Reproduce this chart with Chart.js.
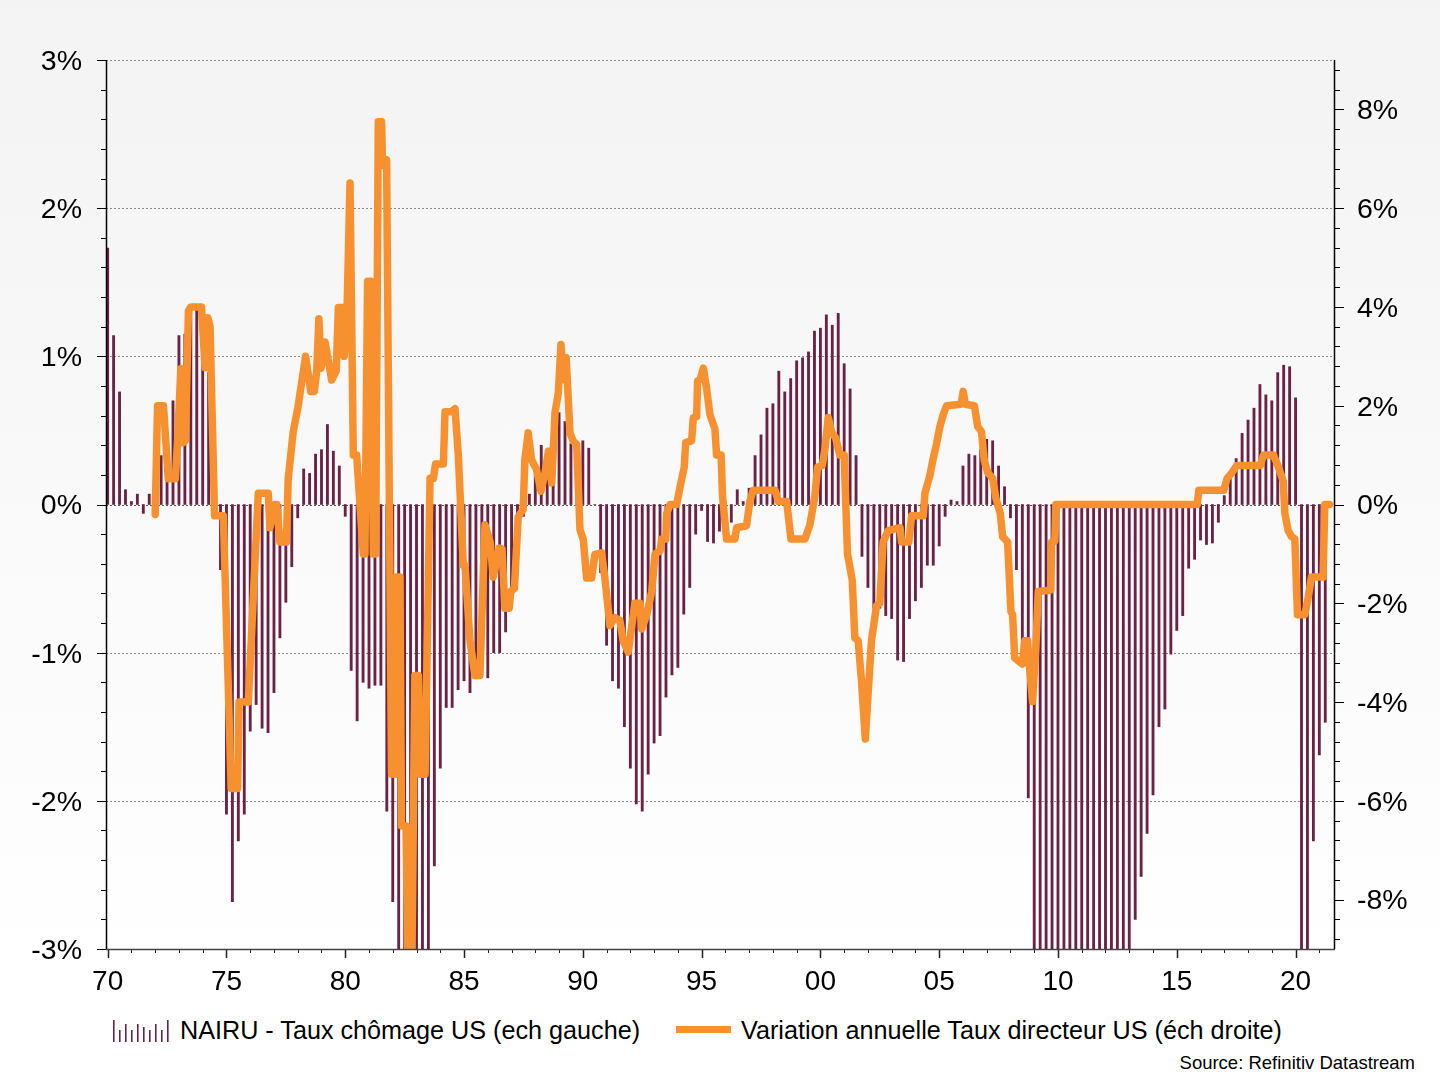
<!DOCTYPE html>
<html>
<head>
<meta charset="utf-8">
<script src="https://cdn.jsdelivr.net/npm/chart.js@4.4.1/dist/chart.umd.min.js"></script>
<style>
html,body{margin:0;padding:0;}
body{width:1440px;height:1080px;overflow:hidden;position:relative;
  background:linear-gradient(to bottom,#f3f3f3 0%,#f9f9f9 45%,#ffffff 90%);
  font-family:"Liberation Sans",Arial,Helvetica,sans-serif;color:#000;}
#wrap{position:absolute;left:0;top:0;width:1440px;height:1000px;}
.leg{position:absolute;font-size:25.2px;line-height:30px;white-space:nowrap;top:1015px;}
#src{position:absolute;right:25px;top:1052px;font-size:18.5px;line-height:22px;white-space:nowrap;}
</style>
</head>
<body>
<div id="wrap"><canvas id="c" width="1440" height="1000"></canvas></div>
<svg style="position:absolute;left:112px;top:1018px" width="58" height="24">
  <rect x="1" y="2" width="1.6" height="22" fill="#6a2245"/>
  <rect x="7" y="12" width="1.6" height="12" fill="#6a2245"/>
  <rect x="13" y="6" width="1.6" height="18" fill="#6a2245"/>
  <rect x="19" y="12" width="1.6" height="12" fill="#6a2245"/>
  <rect x="25" y="6" width="1.6" height="18" fill="#6a2245"/>
  <rect x="31" y="9" width="1.6" height="15" fill="#6a2245"/>
  <rect x="37" y="12" width="1.6" height="12" fill="#6a2245"/>
  <rect x="43" y="6" width="1.6" height="18" fill="#6a2245"/>
  <rect x="49" y="12" width="1.6" height="12" fill="#6a2245"/>
  <rect x="55" y="2" width="1.6" height="22" fill="#6a2245"/>
</svg>
<div class="leg" style="left:180px">NAIRU - Taux chômage US (ech gauche)</div>
<div style="position:absolute;left:676px;top:1026px;width:55px;height:7px;background:#f7912f"></div>
<div class="leg" style="left:741px">Variation annuelle Taux directeur US (éch droite)</div>
<div id="src">Source: Refinitiv Datastream</div>
<script>
// ---------------- DATA ----------------
const barLabel = 'NAIRU - Taux chômage US (ech gauche)';
const lineLabel = 'Variation annuelle Taux directeur US (éch droite)';
const barStartYear = 1970; // quarterly bars, first quarter of 1970
const barValues = [
  1.73, 1.14, 0.76, 0.10,   0.02, 0.07, -0.06, 0.07,   0.03, 0.33, 0.18, 0.70,
  1.14, 1.15, 1.30, 1.31,   1.00, 0.89, 0.50, -0.44,   -2.09, -2.68, -2.27, -2.09,
  -1.53, -1.35, -1.51, -1.54, -1.27, -0.90, -0.66, -0.42, -0.09, 0.24, 0.21, 0.34,
  0.37, 0.54, 0.36, 0.26,   -0.08, -1.12, -1.46, -1.20, -1.24, -1.22, -1.22, -2.07,
  -2.68, -3.30, -3.50, -3.60, -3.50, -3.20, -3.05, -2.44, -1.78, -1.37, -1.37, -1.25,
  -1.19, -1.27, -1.12, -1.03, -1.17, -1.00, -1.00, -0.86, -0.62, -0.30, -0.08, 0.07,
  0.21, 0.40, 0.37, 0.28,   0.62, 0.56, 0.41, 0.40,   0.43, 0.38, 0.00, -0.46,
  -0.95, -1.19, -1.24, -1.50, -1.78, -2.02, -2.07, -1.82, -1.61, -1.56, -1.30, -1.15,
  -1.10, -0.74, -0.56, -0.20, -0.04, -0.25, -0.26, -0.18, -0.15, -0.12, 0.10, 0.02,
  0.11, 0.33, 0.47, 0.65,   0.68, 0.90, 0.76, 0.85,   0.97, 0.99, 1.03, 1.17,
  1.19, 1.28, 1.21, 1.29,   0.95, 0.78, 0.33, -0.35,  -0.56, -0.70, -0.70, -0.75,
  -0.77, -1.05, -1.06, -0.77, -0.65, -0.56, -0.41, -0.41, -0.28, -0.08, 0.03, 0.02,
  0.26, 0.34, 0.33, 0.37,   0.44, 0.43, 0.26, 0.12,   -0.09, -0.44, -1.00, -1.98,
  -3.40, -4.30, -4.90, -5.00, -4.90, -4.70, -4.50, -4.50, -4.30, -4.20, -4.10, -3.90,
  -3.70, -3.60, -3.40, -3.30, -3.10, -2.80, -2.51, -2.22, -1.96, -1.50, -1.38, -1.01,
  -0.85, -0.75, -0.43, -0.37, -0.24, -0.27, -0.26, -0.12, 0.06, 0.22, 0.31, 0.48,
  0.57, 0.65, 0.81, 0.74,   0.70, 0.89, 0.94, 0.93,   0.72, -4.50, -3.40, -2.27,
  -1.69, -1.47
];
const lineDates = [
  1972.00,1972.10,1972.35,1972.55,1972.85,1972.95,1973.08,1973.18,1973.27,1973.40,
  1973.50,1973.95,1974.10,1974.22,1974.31,1974.50,1974.87,1975.20,1975.47,1975.53,
  1975.92,1976.34,1976.76,1976.83,1977.04,1977.12,1977.25,1977.52,1977.60,1977.81,
  1978.02,1978.33,1978.55,1978.70,1978.80,1978.89,1978.98,1979.15,1979.43,1979.62,
  1979.71,1979.92,1979.95,1980.06,1980.20,1980.34,1980.48,1980.76,1980.83,1980.94,
  1981.08,1981.18,1981.28,1981.39,1981.53,1981.57,1981.74,1981.95,1982.09,1982.17,
  1982.30,1982.37,1982.56,1982.65,1982.79,1982.93,1983.08,1983.15,1983.36,1983.57,
  1983.71,1983.80,1984.13,1984.20,1984.48,1984.62,1984.76,1984.97,1985.04,1985.25,
  1985.46,1985.67,1985.88,1986.10,1986.23,1986.48,1986.60,1986.72,1986.90,1986.97,
  1987.12,1987.28,1987.49,1987.56,1987.70,1987.84,1988.05,1988.24,1988.41,1988.55,
  1988.69,1988.83,1988.97,1989.08,1989.18,1989.30,1989.46,1989.60,1989.74,1989.88,
  1990.02,1990.16,1990.37,1990.51,1990.79,1990.93,1991.14,1991.35,1991.56,1991.70,
  1991.91,1992.19,1992.41,1992.48,1992.69,1992.90,1993.04,1993.25,1993.32,1993.49,
  1993.53,1993.67,1993.95,1994.09,1994.27,1994.33,1994.58,1994.65,1994.79,1994.83,
  1994.93,1995.07,1995.21,1995.35,1995.56,1995.63,1995.82,1995.88,1996.05,1996.40,
  1996.47,1996.89,1997.03,1997.17,1998.09,1998.23,1998.58,1998.76,1999.35,1999.56,
  1999.77,1999.88,2000.08,2000.19,2000.33,2000.47,2000.64,2000.82,2001.00,2001.14,
  2001.34,2001.45,2001.59,2001.73,2001.89,2002.01,2002.15,2002.36,2002.50,2002.64,
  2002.85,2003.35,2003.42,2003.72,2003.84,2004.33,2004.40,2004.61,2004.75,2004.89,
  2005.03,2005.17,2005.31,2005.92,2006.01,2006.10,2006.48,2006.62,2006.78,2006.90,
  2007.04,2007.25,2007.39,2007.57,2007.67,2007.88,2008.02,2008.09,2008.18,2008.50,
  2008.60,2008.72,2008.79,2008.93,2009.07,2009.17,2009.70,2009.73,2009.87,2009.91,
  2015.86,2015.93,2016.98,2017.12,2017.33,2017.53,2018.51,2018.65,2019.07,2019.28,
  2019.48,2019.55,2019.69,2019.83,2019.97,2020.08,2020.39,2020.53,2020.67,2021.16,
  2021.23,2021.43
];
const lineValues = [
  -0.20,2.00,2.00,0.52,0.52,1.35,2.75,1.25,1.30,3.92,
  4.00,4.00,2.77,3.78,3.60,-0.23,-0.23,-5.75,-5.75,-4.00,
  -4.00,0.23,0.23,-0.47,0.00,0.00,-0.76,-0.76,0.53,1.47,
  2.00,3.00,2.29,2.29,2.70,3.76,2.76,3.29,2.52,2.70,
  3.99,3.99,3.00,3.58,6.51,1.00,1.00,-1.00,-1.00,4.52,
  4.52,-1.00,-1.00,7.75,7.75,6.87,6.98,-5.46,-5.46,-1.47,
  -1.47,-6.51,-6.51,-10.0,-10.0,-3.46,-3.46,-5.46,-5.46,0.53,
  0.53,0.82,0.82,1.88,1.88,1.94,1.00,-1.23,-1.23,-2.76,
  -3.46,-3.46,-0.41,-0.76,-1.47,-0.88,-0.90,-2.10,-2.10,-1.76,
  -1.70,-0.25,-0.10,0.91,1.45,0.91,0.71,0.27,0.64,1.08,
  0.44,1.86,2.26,3.24,2.53,2.97,1.45,1.28,1.22,-0.51,
  -0.71,-1.49,-1.49,-1.01,-0.98,-1.50,-2.45,-2.29,-2.35,-2.76,
  -2.99,-2.00,-2.00,-2.52,-2.23,-1.76,-1.00,-0.94,-0.70,-0.70,
  -0.18,0.00,0.00,0.35,0.76,1.26,1.29,1.76,1.78,2.50,
  2.52,2.76,2.35,1.82,1.53,1.00,1.00,0.18,-0.70,-0.70,
  -0.47,-0.43,0.06,0.29,0.29,0.06,0.06,-0.70,-0.70,-0.41,
  0.18,0.76,0.79,1.12,1.76,1.47,1.35,1.00,1.00,-1.00,
  -1.53,-2.70,-2.76,-3.58,-4.75,-3.81,-2.76,-2.05,-2.00,-0.76,
  -0.53,-0.47,-0.76,-0.76,-0.23,-0.23,0.23,0.59,0.94,1.23,
  1.58,1.82,2.00,2.03,2.29,2.03,2.00,1.58,1.47,0.88,
  0.65,0.53,0.12,-0.18,-0.65,-0.76,-2.17,-2.23,-3.11,-3.23,
  -2.76,-2.76,-3.23,-3.99,-2.88,-1.76,-1.73,-0.76,-0.74,0.00,
  0.00,0.29,0.29,0.53,0.65,0.79,0.79,1.00,1.00,0.76,
  0.47,-0.18,-0.53,-0.65,-0.70,-2.23,-2.23,-1.88,-1.47,-1.47,
  0.00,0.00
];
const xTickYears = [1970,1975,1980,1985,1990,1995,2000,2005,2010,2015,2020];
const xTickLabels = ['70','75','80','85','90','95','00','05','10','15','20'];
const leftTicks = [-3,-2,-1,0,1,2,3];
const leftTickLabels = ['-3%','-2%','-1%','0%','1%','2%','3%'];
const rightTicks = [-8,-6,-4,-2,0,2,4,6,8];
const rightTickLabels = ['-8%','-6%','-4%','-2%','0%','2%','4%','6%','8%'];

// ---------------- BUILD ----------------
const barPoints = barValues.map((v,i)=>({x: barStartYear + i/4, y: v}));
const linePoints = lineDates.map((d,i)=>({x: d, y: lineValues[i]}));

const FONT = '"Liberation Sans", Arial, Helvetica, sans-serif';

const decor = {
  id:'decor',
  beforeDatasetsDraw(chart){
    const {ctx, chartArea:a, scales} = chart;
    ctx.save();
    ctx.lineWidth = 1;
    ctx.setLineDash([2,2]);
    leftTicks.forEach(v=>{
      const py = Math.round(scales.y.getPixelForValue(v)) + 0.5;
      ctx.strokeStyle = v === 0 ? '#555555' : '#8a8a8a';
      ctx.beginPath(); ctx.moveTo(a.left, py); ctx.lineTo(a.right, py); ctx.stroke();
    });
    ctx.restore();
  },
  afterDatasetsDraw(chart){
    const {ctx, chartArea:a, scales} = chart;
    ctx.save();
    ctx.strokeStyle = '#000';
    ctx.lineWidth = 1;
    for(let k=-15;k<=15;k++){
      const py = Math.round(scales.y.getPixelForValue(k/5)) + 0.5;
      const len = (k%5===0) ? 9 : 5;
      ctx.beginPath(); ctx.moveTo(a.left-len, py); ctx.lineTo(a.left, py); ctx.stroke();
    }
    for(let k=-22;k<=22;k++){
      const py = Math.round(scales.y2.getPixelForValue(k*0.4)) + 0.5;
      const len = (k%5===0) ? 9 : 5;
      ctx.beginPath(); ctx.moveTo(a.right, py); ctx.lineTo(a.right+len, py); ctx.stroke();
    }
    ctx.strokeStyle = '#222';
    for(let yr=1970; yr<=2021; yr++){
      const px = Math.round(scales.x.getPixelForValue(yr)) + 0.5;
      const len = (yr%5===0) ? 9 : 4;
      ctx.lineWidth = (yr%5===0) ? 1.5 : 1;
      ctx.beginPath(); ctx.moveTo(px, a.bottom); ctx.lineTo(px, a.bottom+len); ctx.stroke();
    }
    ctx.lineWidth = 1.5;
    ctx.strokeStyle = '#000';
    ctx.beginPath(); ctx.moveTo(a.left+0.5, a.top); ctx.lineTo(a.left+0.5, a.bottom); ctx.stroke();
    ctx.beginPath(); ctx.moveTo(a.right-0.5, a.top); ctx.lineTo(a.right-0.5, a.bottom); ctx.stroke();
    ctx.strokeStyle = '#444';
    ctx.beginPath(); ctx.moveTo(a.left, a.bottom+0.5); ctx.lineTo(a.right, a.bottom+0.5); ctx.stroke();
    ctx.restore();
  }
};

new Chart(document.getElementById('c'), {
  type: 'bar',
  data: {
    datasets: [
      {
        type: 'line',
        label: lineLabel,
        data: linePoints,
        yAxisID: 'y2',
        borderColor: '#f7912f',
        borderWidth: 7.5,
        pointRadius: 0,
        tension: 0,
        borderJoinStyle: 'round',
        borderCapStyle: 'round',
        fill: false,
        clip: 0,
        order: 1
      },
      {
        type: 'bar',
        label: barLabel,
        data: barPoints,
        yAxisID: 'y',
        backgroundColor: '#6a2245',
        borderWidth: 0,
        barThickness: 2.2,
        clip: 0,
        order: 2
      }
    ]
  },
  options: {
    responsive: false,
    animation: false,
    devicePixelRatio: 1,
    layout: { padding: { top: 60, left: 0, right: 0, bottom: 0 } },
    plugins: { legend: { display: false }, tooltip: { enabled: false } },
    scales: {
      x: {
        type: 'linear',
        min: 1969.93,
        max: 2021.66,
        offset: false,
        grid: { display: false, drawTicks: false },
        border: { display: false },
        afterBuildTicks: ax => { ax.ticks = xTickYears.map(v=>({value:v})); },
        afterFit: ax => { ax.height = 51; },
        ticks: {
          autoSkip: false, maxRotation: 0, padding: 16,
          font: { family: FONT, size: 28 }, color: '#000',
          callback: (v) => { const i = xTickYears.indexOf(v); return i >= 0 ? xTickLabels[i] : ''; }
        }
      },
      y: {
        position: 'left',
        min: -3, max: 3,
        grid: { display: false, drawTicks: false },
        border: { display: false },
        afterBuildTicks: ax => { ax.ticks = leftTicks.map(v=>({value:v})); },
        afterFit: ax => { ax.width = 106; },
        ticks: {
          padding: 24, labelOffset: 2,
          font: { family: FONT, size: 28.5 }, color: '#000',
          callback: (v) => { const i = leftTicks.indexOf(v); return i >= 0 ? leftTickLabels[i] : ''; }
        }
      },
      y2: {
        position: 'right',
        min: -9, max: 9,
        grid: { display: false, drawTicks: false },
        border: { display: false },
        afterBuildTicks: ax => { ax.ticks = rightTicks.map(v=>({value:v})); },
        afterFit: ax => { ax.width = 105; },
        ticks: {
          padding: 22, labelOffset: 2,
          font: { family: FONT, size: 28.5 }, color: '#000',
          callback: (v) => { const i = rightTicks.indexOf(v); return i >= 0 ? rightTickLabels[i] : ''; }
        }
      }
    }
  },
  plugins: [decor]
});
</script>
</body>
</html>
